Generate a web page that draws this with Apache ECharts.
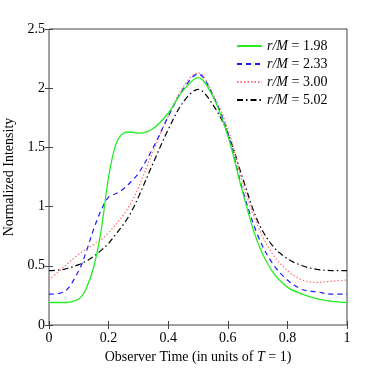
<!DOCTYPE html>
<html>
<head>
<meta charset="utf-8">
<script src="https://cdn.jsdelivr.net/npm/echarts@6/dist/echarts.min.js"></script>
<style>
  html, body { margin: 0; padding: 0; background: #fff; }
  #chart { width: 382px; height: 368px; }
</style>
</head>
<body>
<div id="chart"></div>
<script>
// observer time samples (units of T = 1)
const times = [0, 0.05, 0.1, 0.125, 0.15, 0.175, 0.2, 0.225, 0.25, 0.275, 0.3, 0.35, 0.4,
  0.45, 0.5, 0.55, 0.6, 0.65, 0.7, 0.75, 0.8, 0.85, 0.9, 0.95, 1];

const radii = ["1.98", "2.33", "3.00", "5.02"];

const rm198 = [0.19, 0.19, 0.22, 0.31, 0.49, 0.80, 1.25, 1.53, 1.62, 1.63, 1.62, 1.66, 1.79,
  1.98, 2.09, 1.93, 1.60, 1.12, 0.70, 0.45, 0.32, 0.26, 0.22, 0.20, 0.19];
const rm233 = [0.26, 0.28, 0.46, 0.62, 0.81, 0.97, 1.08, 1.11, 1.15, 1.21, 1.28, 1.50, 1.76,
  1.99, 2.12, 1.94, 1.62, 1.14, 0.76, 0.52, 0.38, 0.30, 0.28, 0.26, 0.26];
const rm300 = [0.38, 0.49, 0.60, 0.64, 0.68, 0.72, 0.78, 0.85, 0.93, 1.03, 1.16, 1.47, 1.76,
  2.01, 2.13, 1.95, 1.66, 1.20, 0.84, 0.60, 0.46, 0.38, 0.36, 0.37, 0.38];
const rm502 = [0.46, 0.47, 0.51, 0.54, 0.58, 0.63, 0.69, 0.77, 0.85, 0.95, 1.08, 1.37, 1.65,
  1.88, 1.99, 1.86, 1.62, 1.24, 0.88, 0.67, 0.56, 0.50, 0.47, 0.46, 0.46];

const xTicks = [0, 0.2, 0.4, 0.6, 0.8, 1];
const yTicks = [0, 0.5, 1, 1.5, 2, 2.5];

const font = "Liberation Serif";
const pair = (ys) => times.map((t, i) => [t, ys[i]]);

const chart = echarts.init(document.getElementById("chart"));

const styles = [
  { color: "#22ee22", type: "solid" },
  { color: "#1a1aff", type: [5, 4] },
  { color: "#ff7070", type: [1.5, 2] },
  { color: "#000000", type: [6, 3, 1.5, 3] }
];
const allData = [rm198, rm233, rm300, rm502];

const tickStyle = { inside: true, length: 4, lineStyle: { color: "#444" } };

const option = {
  animation: false,
  grid: {
    left: 49, right: 35, top: 29, bottom: 43,
    outerBoundsMode: "none",
    containLabel: false,
    show: true, borderColor: "#444", borderWidth: 1
  },
  legend: {
    left: 231, top: 34,
    orient: "vertical",
    itemGap: 4,
    itemWidth: 25,
    itemHeight: 14,
    itemStyle: { opacity: 0 },
    data: radii.map((r) => "r/M = " + r),
    formatter: (name) => "{i|r/M} = " + name.split("= ")[1],
    textStyle: {
      fontFamily: font, fontSize: 14, color: "#000",
      rich: { i: { fontFamily: font, fontStyle: "italic", fontSize: 14 } }
    }
  },
  xAxis: [
    {
      type: "value", position: "bottom", min: 0, max: 1, interval: 0.2,
      axisLine: { show: false }, splitLine: { show: false }, axisTick: tickStyle,
      axisLabel: {
        fontFamily: font, fontSize: 14, color: "#000", margin: 6,
        formatter: (v) => (xTicks.includes(+v.toFixed(2)) ? String(+v.toFixed(2)) : "")
      },
      name: "Observer Time (in units of {i|T} = 1)",
      nameLocation: "middle", nameGap: 21,
      nameTextStyle: {
        fontFamily: font, fontSize: 14, color: "#000",
        rich: { i: { fontFamily: font, fontStyle: "italic", fontSize: 14 } }
      }
    },
    {
      type: "value", position: "top", min: 0, max: 1, interval: 0.2,
      axisLine: { show: false }, splitLine: { show: false }, axisTick: tickStyle,
      axisLabel: { show: false }
    }
  ],
  yAxis: [
    {
      type: "value", min: 0, max: 2.5, interval: 0.5, position: "left",
      axisLine: { show: false }, splitLine: { show: false }, axisTick: tickStyle,
      axisLabel: {
        fontFamily: font, fontSize: 14, color: "#000", margin: 4,
        formatter: (v) => (yTicks.includes(+v.toFixed(2)) ? String(+v.toFixed(2)) : "")
      },
      name: "Normalized Intensity",
      nameLocation: "middle", nameGap: 28,
      nameTextStyle: { fontFamily: font, fontSize: 14, color: "#000" }
    },
    {
      type: "value", min: 0, max: 2.5, interval: 0.5, position: "right",
      axisLine: { show: false }, splitLine: { show: false }, axisTick: tickStyle,
      axisLabel: { show: false }
    }
  ],
  series: radii.map((r, k) => ({
    name: "r/M = " + r,
    type: "line",
    smooth: 0.35,
    symbol: "none",
    data: pair(allData[k]),
    itemStyle: { color: styles[k].color },
    lineStyle: { color: styles[k].color, width: k === 0 ? 1.3 : 1.2, type: styles[k].type },
    z: 4 - k
  }))
};

chart.setOption(option);
</script>
</body>
</html>
